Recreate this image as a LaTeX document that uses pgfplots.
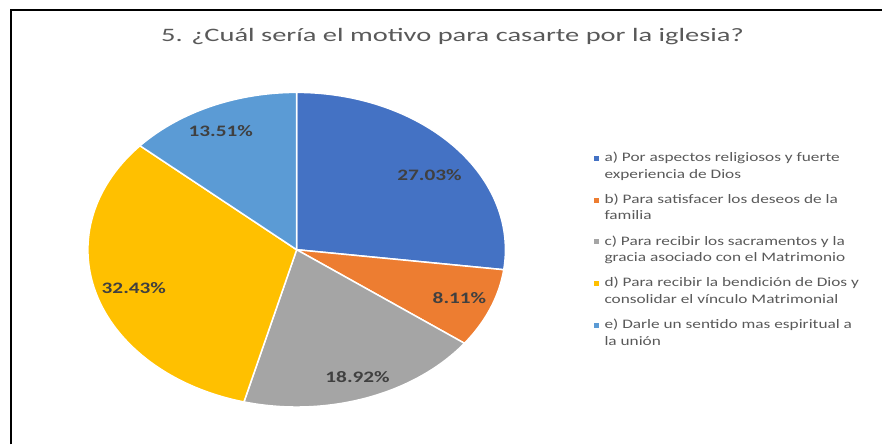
\documentclass[border=0pt]{standalone}
\usepackage{pgfplots}
\pgfplotsset{compat=1.18}
\usepackage{fontspec}
\setmainfont[FakeStretch=1.33]{Carlito}
\newfontfamily\titlefont[FakeStretch=1.5]{Carlito}
\definecolor{cA}{HTML}{4472C4}
\definecolor{cB}{HTML}{ED7D31}
\definecolor{cC}{HTML}{A5A5A5}
\definecolor{cD}{HTML}{FFC000}
\definecolor{cE}{HTML}{5B9BD5}
\definecolor{txt}{HTML}{595959}
\definecolor{lbl}{HTML}{404040}
% data (percent)
\def\va{27.03}\def\vb{8.11}\def\vc{18.92}\def\vd{32.43}\def\ve{13.51}
\pgfmathsetmacro\aA{90}
\pgfmathsetmacro\aB{\aA-3.6*\va}
\pgfmathsetmacro\aC{\aB-3.6*\vb}
\pgfmathsetmacro\aD{\aC-3.6*\vc}
\pgfmathsetmacro\aE{\aD-3.6*\vd}
\pgfmathsetmacro\aF{\aE-3.6*\ve}
\def\cx{297}\def\cy{195}\def\rx{209}\def\ry{157.5}
\begin{document}
\begin{tikzpicture}
\begin{axis}[scale only axis, width=883pt, height=445pt,
  xmin=0, xmax=883, ymin=0, ymax=445, hide axis, clip=false]
\path (axis cs:0,0) rectangle (axis cs:883,445);
% frame
\draw[black, line width=2pt] (axis cs:11,0) -- (axis cs:11,435) -- (axis cs:883,435);
% wedges
\addplot[fill=cA, draw=white, line width=1.5pt, line join=round, domain=\aB:\aA, samples=80, variable=\t]
  ({\cx+\rx*cos(\t)},{\cy+\ry*sin(\t)}) -- (axis cs:\cx,\cy) -- cycle;
\addplot[fill=cB, draw=white, line width=1.5pt, line join=round, domain=\aC:\aB, samples=40, variable=\t]
  ({\cx+\rx*cos(\t)},{\cy+\ry*sin(\t)}) -- (axis cs:\cx,\cy) -- cycle;
\addplot[fill=cC, draw=white, line width=1.5pt, line join=round, domain=\aD:\aC, samples=60, variable=\t]
  ({\cx+\rx*cos(\t)},{\cy+\ry*sin(\t)}) -- (axis cs:\cx,\cy) -- cycle;
\addplot[fill=cD, draw=white, line width=1.5pt, line join=round, domain=\aE:\aD, samples=90, variable=\t]
  ({\cx+\rx*cos(\t)},{\cy+\ry*sin(\t)}) -- (axis cs:\cx,\cy) -- cycle;
\addplot[fill=cE, draw=white, line width=1.5pt, line join=round, domain=\aF:\aE, samples=50, variable=\t]
  ({\cx+\rx*cos(\t)},{\cy+\ry*sin(\t)}) -- (axis cs:\cx,\cy) -- cycle;
% data labels
\begin{scope}[every node/.style={font=\fontsize{16}{19}\selectfont\bfseries, text=lbl, inner sep=0pt}]
\node at (axis cs:430,270) {27.03\%};
\node at (axis cs:460,147) {8.11\%};
\node at (axis cs:358,68) {18.92\%};
\node at (axis cs:134,157) {32.43\%};
\node at (axis cs:221,314) {13.51\%};
\end{scope}
% title
\node[font=\titlefont\fontsize{19}{23}\selectfont, text=txt, anchor=base, inner sep=0pt] at (axis cs:453,403)
  {5. ¿Cuál sería el motivo para casarte por la iglesia?};
% legend
\begin{scope}[every node/.style={font=\fontsize{13}{16}\selectfont, text=txt, anchor=base west, inner sep=0pt}]
\fill[cA] (axis cs:595,284) rectangle (axis cs:600,289);
\node at (axis cs:605,283) {a) Por aspectos religiosos y fuerte};
\node at (axis cs:605,266.5) {experiencia de Dios};
\fill[cB] (axis cs:595,242.25) rectangle (axis cs:600,247.25);
\node at (axis cs:605,241.25) {b) Para satisfacer los deseos de la};
\node at (axis cs:605,224.75) {familia};
\fill[cC] (axis cs:595,200.5) rectangle (axis cs:600,205.5);
\node at (axis cs:605,199.5) {c) Para recibir los sacramentos y la};
\node at (axis cs:605,183) {gracia asociado con el Matrimonio};
\fill[cD] (axis cs:595,158.75) rectangle (axis cs:600,163.75);
\node at (axis cs:605,157.75) {d) Para recibir la bendición de Dios y};
\node at (axis cs:605,141.25) {consolidar el vínculo Matrimonial};
\fill[cE] (axis cs:595,117) rectangle (axis cs:600,122);
\node at (axis cs:605,116) {e) Darle un sentido mas espiritual a};
\node at (axis cs:605,99.5) {la unión};
\end{scope}
\end{axis}
\end{tikzpicture}
\end{document}
